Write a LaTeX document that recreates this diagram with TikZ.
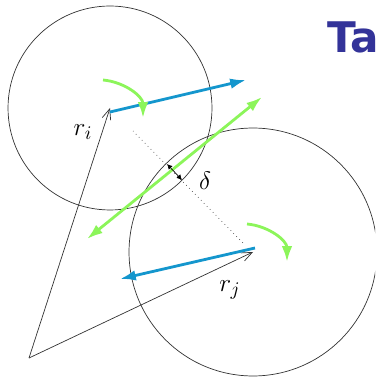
\documentclass[tikz,border=0pt]{standalone}
\usepackage{amsmath}
\usepackage{fontspec}
\newfontfamily\titlefont{DejaVu Sans}
\usepackage{xcolor}
\usetikzlibrary{arrows.meta, arrows}

\definecolor{velblue}{RGB}{20,150,205}
\definecolor{rotgreen}{RGB}{140,245,90}
\definecolor{titleblue}{RGB}{51,51,153}

\begin{document}
\begin{tikzpicture}[x=0.02cm, y=-0.02cm, thin,
    posvec/.style={draw=black!80, -{Straight Barb[length=6pt,width=5pt]}},
    velarrow/.style={draw=velblue, line width=1.6pt, -{Latex[length=9pt,width=6pt]}},
    spin/.style={draw=rotgreen, line width=1.6pt, -{Latex[length=9pt,width=6pt]}},
    every node/.style={font=\fontsize{15}{17}\selectfont}]
    \useasboundingbox (0,0) rectangle (375,377);
    \clip (0,0) rectangle (375,377);
    % Points
    \coordinate (O) at (29,358);
    \coordinate (ci) at (110,108);
    \coordinate (cj) at (253,252);
    % Particles
    \draw[black!80] (ci) circle[radius=2.04cm];
    \draw[black!80] (cj) circle[radius=2.48cm];
    % Position vectors
    \draw[posvec] (O) -- (ci);
    \draw[posvec] (O) -- (cj);
    \node (ri) at (83,132) {$r_i$};
    \node (rj) at (230,290) {$r_j$};
    % Line of centres
    \draw[black!70, dotted] (133,131) -- (245,245);
    % Velocities
    \coordinate (vi) at (246,80);
    \coordinate (vj) at (120,279);
    \draw[velarrow] (110,112) -- (vi);
    \draw[velarrow] (255,248) -- (vj);
    % Rotations
    \draw[spin] (103,80) to[out=-5, in=90] (143,118);
    \draw[spin] (247,224) to[out=-5, in=90] (287,262);
    % Contact plane
    \draw[draw=rotgreen, line width=1.6pt, {Latex[length=9pt,width=6pt]}-{Latex[length=9pt,width=6pt]}] (87,239) -- (262,97);
    % Overlap
    \draw[black, {Latex[length=3pt,width=3pt]}-{Latex[length=3pt,width=3pt]}] (167,164) -- (182,180);
    \node (delta) at (205,181) {$\delta$};
    % Title
    \node[anchor=base west, inner sep=0pt, text=titleblue, font=\titlefont\bfseries\fontsize{24}{28}\selectfont] (title) at (327,53) {Ta};
\end{tikzpicture}
\end{document}
